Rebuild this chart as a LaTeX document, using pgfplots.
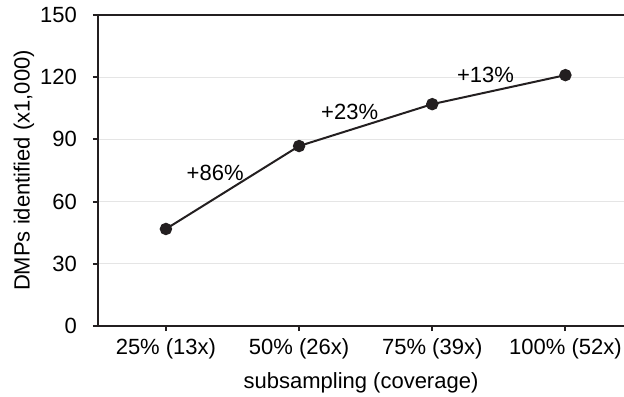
\documentclass[border=0pt]{standalone}
\usepackage{pgfplots}
\pgfplotsset{compat=1.18}
\usepackage{fontspec}
\setmainfont{Liberation Sans}
\definecolor{ink}{HTML}{231F20}
\begin{document}
\begin{tikzpicture}
\begin{axis}[
  scale only axis, width=263pt, height=155.5pt,
  xmin=-0.51, xmax=3.44, ymin=0, ymax=150,
  axis x line=box, axis y line=left,
  axis line style={-, line width=1pt, ink},
  xtick={0,1,2,3},
  xticklabels={25\% (13x),50\% (26x),75\% (39x),100\% (52x)},
  xtick pos=bottom,
  ytick={0,30,60,90,120,150},
  tick align=outside, major tick length=2.5pt,
  tick style={line width=1pt, ink},
  ymajorgrids, grid style={line width=0.5pt, black!10},
  /pgf/number format/assume math mode=true,
  tick label style={font=\fontsize{11}{13}\selectfont, text=black},
  yticklabel style={xshift=-4.5pt},
  label style={font=\fontsize{11}{13}\selectfont, text=black},
  xlabel={subsampling (coverage)},
  ylabel={DMPs identified (x1,000)},
  ylabel style={at={(axis description cs:-0.1407,0.5)}, anchor=center},
  clip=false,
]
\addplot[ink, line width=1pt, mark=*, mark size=2.6pt, mark options={fill=ink}]
  coordinates {(0,46.8) (1,86.8) (2,107) (3,121)};
\node[font=\fontsize{11}{13}\selectfont] at (axis cs:0.37,73.8) {+86\%};
\node[font=\fontsize{11}{13}\selectfont] at (axis cs:1.38,103.2) {+23\%};
\node[font=\fontsize{11}{13}\selectfont] at (axis cs:2.40,121) {+13\%};
\end{axis}
\pgfresetboundingbox
\path[use as bounding box] ([xshift=-49pt,yshift=-35pt]current axis.south west) rectangle ([yshift=7.5pt]current axis.north east);
\end{tikzpicture}
\end{document}
